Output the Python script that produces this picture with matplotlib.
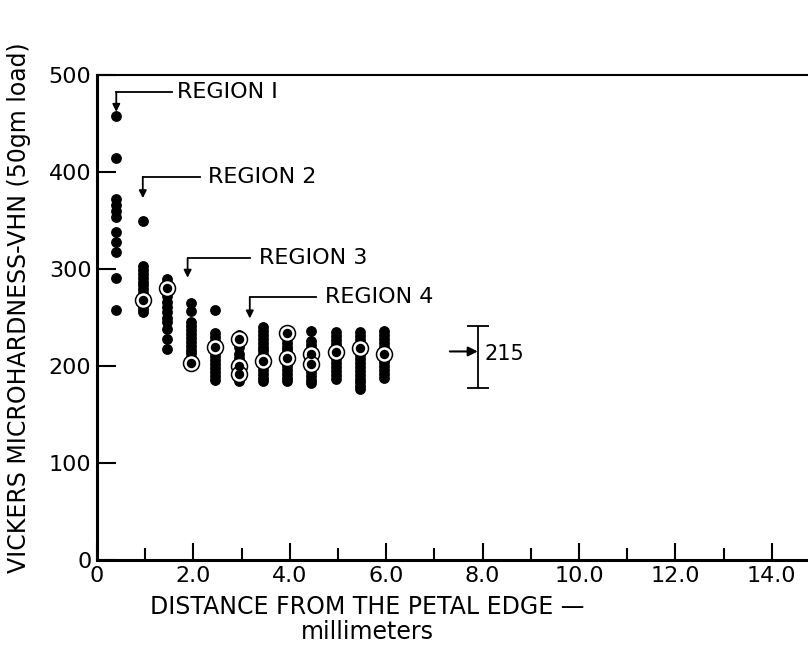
import numpy as np
import matplotlib.pyplot as plt

plt.rcParams['font.family'] = 'DejaVu Sans'

# posizioni delle colonne di misure (mm dal bordo del petalo)
col_x = [0.4, 0.95, 1.45, 1.95, 2.45, 2.95, 3.45, 3.95, 4.45, 4.95, 5.45, 5.95]

# durezza misurata per ogni colonna (VHN)
col_vhn = [
    [458, 414, 372, 366, 360, 354, 338, 328, 318, 291, 258],
    [350, 303, 299, 295, 291, 287, 283, 279, 275, 271, 267, 263, 259, 256],
    [290, 286, 282, 277, 272, 266, 261, 256, 250, 245, 238, 228, 218],
    [265, 257, 245, 241, 237, 233, 229, 225, 221, 217, 213, 209, 205],
    [258, 234, 230, 226, 222, 218, 214, 210, 206, 202, 198, 194, 190, 186],
    [232, 228, 224, 220, 212, 208, 204, 200, 196, 192, 188, 185],
    [240, 236, 232, 228, 224, 220, 216, 212, 208, 204, 200, 196, 192, 188, 185],
    [236, 232, 228, 224, 220, 216, 212, 208, 204, 200, 196, 192, 188, 185],
    [236, 226, 222, 218, 214, 210, 206, 202, 198, 194, 190, 186, 182],
    [235, 231, 227, 223, 219, 215, 211, 207, 203, 199, 195, 191, 187],
    [235, 231, 227, 223, 219, 215, 211, 207, 203, 199, 195, 191, 187, 183, 179, 176],
    [236, 232, 228, 224, 220, 216, 212, 208, 204, 200, 196, 192, 188],
]

# valori medi (cerchi aperti)
mean_x = [0.95, 1.45, 1.95, 2.45, 2.95, 2.95, 2.95, 3.45, 3.95, 3.95,
          4.45, 4.45, 4.95, 5.45, 5.95]
mean_vhn = [268, 280, 203, 220, 228, 200, 192, 205, 234, 208,
            212, 202, 214, 219, 212]

# media globale e banda
avg_x = 7.9
avg_vhn = 215
avg_low = 177
avg_high = 241

regions = ['REGION I', 'REGION 2', 'REGION 3', 'REGION 4']

fig = plt.figure(figsize=(8.08, 6.49), dpi=100)
ax = fig.add_axes([97/808, 89/649, 711/808, 485/649])

# punti pieni
for x, vals in zip(col_x, col_vhn):
    ax.plot([x]*len(vals), vals, 'o', color='black', ms=7.8, mew=0, zorder=3)

# cerchi aperti: anello nero, spazio bianco, punto nero
ax.plot(mean_x, mean_vhn, 'o', mfc='white', mec='black', ms=11.5, mew=1.1, zorder=4)
ax.plot(mean_x, mean_vhn, 'o', color='black', ms=6.8, mew=0, zorder=5)

# barra della media complessiva
ax.errorbar([avg_x], [avg_vhn], yerr=[[avg_vhn - avg_low], [avg_high - avg_vhn]],
            fmt='none', ecolor='black', elinewidth=1.3, capsize=8, capthick=1.3)
ax.annotate('', xy=(avg_x, avg_vhn), xytext=(avg_x - 0.58, avg_vhn),
            arrowprops=dict(arrowstyle='-|>', color='black', lw=1.5,
                            mutation_scale=14, shrinkA=0, shrinkB=0))
ax.text(avg_x + 0.13, avg_vhn - 3, str(avg_vhn), fontsize=15,
        ha='left', va='center')

# frecce delle regioni: (x punta, y angolo, y punta, x fine linea, x testo)
reg_pos = [(0.4, 482, 462, 1.55, 1.66),
           (0.95, 395, 373, 2.13, 2.3),
           (1.88, 311, 291, 3.17, 3.37),
           (3.17, 271, 249, 4.55, 4.72)]
for name, (xa, yc, yt, xe, xt) in zip(regions, reg_pos):
    ax.plot([xa, xe], [yc, yc], color='black', lw=1.3)
    ax.annotate('', xy=(xa, yt), xytext=(xa, yc),
                arrowprops=dict(arrowstyle='-|>', color='black', lw=1.3,
                                mutation_scale=11, shrinkA=0, shrinkB=0))
    ax.text(xt, yc, name, fontsize=16, ha='left', va='center')

ax.set_xlim(0, 711/48.2)
ax.set_ylim(0, 500)

ax.set_xticks(np.arange(0, 15, 2))
ax.set_xticklabels(['0'] + ['%.1f' % v for v in np.arange(2, 15, 2)])
ax.set_xticks(np.arange(1, 14, 2), minor=True)
ax.set_yticks(np.arange(0, 501, 100))
ax.tick_params(axis='both', which='both', direction='in', width=1.5,
               labelsize=16, colors='black')
ax.tick_params(axis='x', which='major', length=12, pad=4)
ax.tick_params(axis='x', which='minor', length=8.5)
ax.tick_params(axis='y', which='major', length=14, pad=4)

ax.spines['right'].set_visible(False)
for s in ['left', 'bottom']:
    ax.spines[s].set_linewidth(2.2)
ax.spines['top'].set_linewidth(1.5)

fig.text(367/808, 1 - 607/649, 'DISTANCE FROM THE PETAL EDGE \u2014',
         fontsize=17, ha='center', va='center')
fig.text(367/808, 1 - 632/649, 'millimeters', fontsize=17,
         ha='center', va='center')
fig.text(19/808, 1 - 308/649, 'VICKERS MICROHARDNESS-VHN (50gm load)',
         fontsize=17, rotation=90, ha='center', va='center')

fig.savefig('out.png', dpi=100)
